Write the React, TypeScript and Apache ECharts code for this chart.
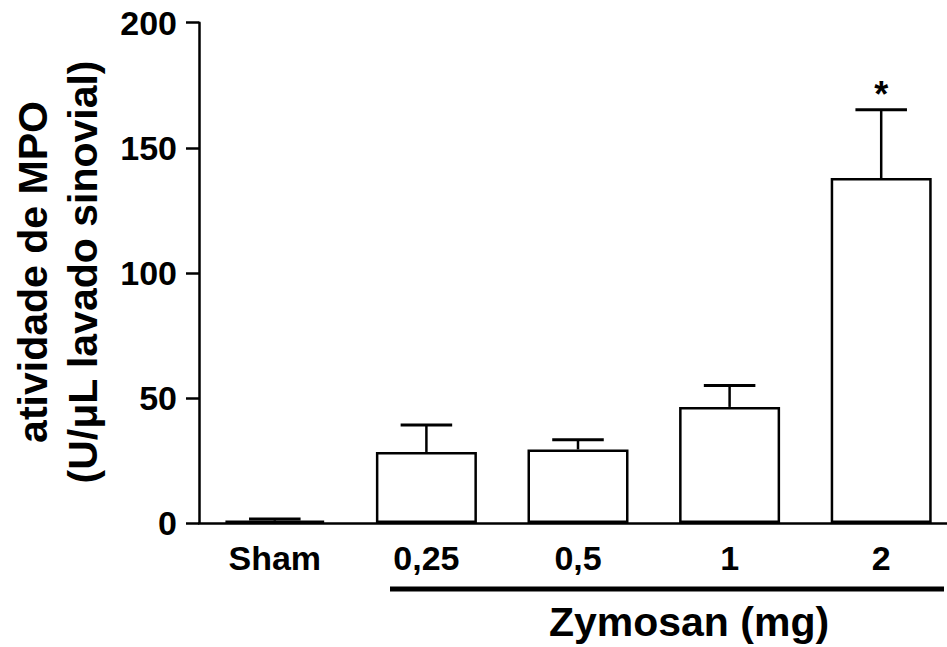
import React, { useEffect, useRef } from "react";
import * as echarts from "echarts";

const categories = ["Sham", "0,25", "0,5", "1", "2"];
const means = [0.9, 28.4, 29.4, 46.4, 137.9];
const errorTops = [1.6, 39.2, 33.3, 55.0, 165.2];
const significance = ["", "", "", "", "*"];
const yMin = 0;
const yMax = 200;
const yInterval = 50;
const yTitle = "atividade de MPO\n(U/μL lavado sinovial)";
const xTitle = "Zymosan (mg)";

const FONT = '"Liberation Sans", Arial, Helvetica, sans-serif';

export default function App() {
  const ref = useRef<HTMLDivElement>(null);
  useEffect(() => {
    if (!ref.current) return;
    const chart = echarts.init(ref.current, null, { renderer: "svg" });
    const errData = categories.map((c, i) => [i, means[i], errorTops[i], significance[i]]);
    chart.setOption({
      animation: false,
      backgroundColor: "#ffffff",
      grid: { left: 199, top: 22.7, height: 500.3, right: 0 },
      xAxis: {
        type: "category",
        data: categories,
        boundaryGap: true,
        axisLine: { show: true, lineStyle: { color: "#000", width: 2.5 } },
        axisTick: { show: false },
        axisLabel: {
          color: "#000",
          fontSize: 34,
          fontWeight: "bold",
          fontFamily: FONT,
          margin: 18,
          interval: 0,
        },
        splitLine: { show: false },
      },
      yAxis: {
        type: "value",
        min: yMin,
        max: yMax,
        interval: yInterval,
        axisLine: { show: true, lineStyle: { color: "#000", width: 2.5 } },
        axisTick: { show: true, inside: false, length: 13, lineStyle: { color: "#000", width: 2.5 } },
        axisLabel: {
          color: "#000",
          fontSize: 34,
          fontWeight: "bold",
          fontFamily: FONT,
          margin: 22,
        },
        splitLine: { show: false },
      },
      series: [
        {
          type: "bar",
          data: means,
          barWidth: 101,
          itemStyle: { color: "#ffffff", borderColor: "#000", borderWidth: 2.5 },
          z: 2,
        },
        {
          type: "custom",
          data: errData,
          z: 3,
          renderItem: (params: any, api: any) => {
            const x = api.value(0);
            const m = api.value(1);
            const hi = api.value(2);
            const star = errData[params.dataIndex][3] as string;
            const p0 = api.coord([x, m]);
            const p1 = api.coord([x, hi]);
            const half = api.size([1, 0])[0] * 0.17;
            const children: any[] = [
              {
                type: "line",
                shape: { x1: p0[0], y1: p0[1], x2: p1[0], y2: p1[1] },
                style: { stroke: "#000", lineWidth: 2.5 },
              },
              {
                type: "line",
                shape: { x1: p1[0] - half, y1: p1[1], x2: p1[0] + half, y2: p1[1] },
                style: { stroke: "#000", lineWidth: 3 },
              },
            ];
            if (star) {
              children.push({
                type: "text",
                x: p1[0],
                y: p1[1] + 3,
                style: {
                  text: star,
                  fontSize: 36,
                  fontWeight: "bold",
                  fontFamily: FONT,
                  fill: "#000",
                  align: "center",
                  verticalAlign: "bottom",
                },
              });
            }
            return { type: "group", children };
          },
        },
      ],
      graphic: [
        {
          type: "text",
          x: 58,
          y: 272,
          rotation: Math.PI / 2,
          style: {
            text: yTitle,
            fontSize: 41,
            fontWeight: "bold",
            fontFamily: FONT,
            fill: "#000",
            align: "center",
            verticalAlign: "middle",
            lineHeight: 50,
          },
        },
        {
          type: "line",
          shape: { x1: 390, y1: 589, x2: 944, y2: 589 },
          style: { stroke: "#000", lineWidth: 5 },
        },
        {
          type: "text",
          x: 689,
          y: 622,
          style: {
            text: xTitle,
            fontSize: 41,
            fontWeight: "bold",
            fontFamily: FONT,
            fill: "#000",
            align: "center",
            verticalAlign: "middle",
          },
        },
      ],
    });
    return () => chart.dispose();
  }, []);
  return (
    <div
      style={{ position: "fixed", left: 0, top: 0, width: 947, height: 647, overflow: "hidden", background: "#fff" }}
    >
      <div ref={ref} style={{ width: 957, height: 647 }} />
    </div>
  );
}
